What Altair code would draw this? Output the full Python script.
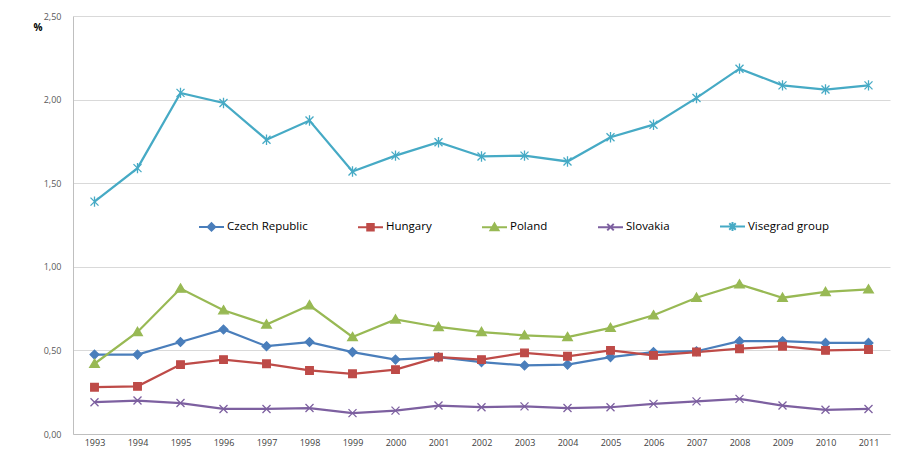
import altair as alt
import pandas as pd

years = [str(y) for y in range(1993, 2012)]
series = ["Czech Republic", "Hungary", "Poland", "Slovakia", "Visegrad group"]
czech = [0.475, 0.475, 0.55, 0.625, 0.525, 0.55, 0.49, 0.445, 0.46, 0.43, 0.41, 0.415, 0.46, 0.49, 0.495, 0.555, 0.555, 0.545, 0.545]
hungary = [0.28, 0.285, 0.415, 0.445, 0.42, 0.38, 0.36, 0.385, 0.46, 0.445, 0.485, 0.465, 0.50, 0.47, 0.49, 0.51, 0.525, 0.50, 0.505]
poland = [0.42, 0.61, 0.87, 0.74, 0.655, 0.77, 0.58, 0.685, 0.64, 0.61, 0.59, 0.58, 0.635, 0.71, 0.815, 0.895, 0.815, 0.85, 0.865]
slovakia = [0.19, 0.20, 0.185, 0.15, 0.15, 0.155, 0.125, 0.14, 0.17, 0.16, 0.165, 0.155, 0.16, 0.18, 0.195, 0.21, 0.17, 0.145, 0.15]
visegrad = [1.39, 1.59, 2.04, 1.98, 1.76, 1.875, 1.57, 1.665, 1.745, 1.66, 1.665, 1.63, 1.775, 1.85, 2.01, 2.185, 2.085, 2.06, 2.085]
y_ticks = [0, 0.5, 1.0, 1.5, 2.0, 2.5]

colors = ["#4A7EBB", "#BE4B48", "#98B954", "#7D60A0", "#46AAC5"]
marker_paths = [
    "M0,-1.1L1.1,0L0,1.1L-1.1,0Z",
    "M-0.95,-0.95H0.95V0.95H-0.95Z",
    "M0,-1.15L1.2,0.9L-1.2,0.9Z",
    "M-1,-1L1,1M-1,1L1,-1",
    "M-1,-1L1,1M-1,1L1,-1M0,-1.3V1.3",
]
legend_paths = [
    "M-1,0H1M0,-0.3L0.3,0L0,0.3L-0.3,0Z",
    "M-1,0H1M-0.26,-0.26H0.26V0.26H-0.26Z",
    "M-1,0H1M0,-0.3L0.32,0.25L-0.32,0.25Z",
    "M-1,0H1M-0.26,-0.26L0.26,0.26M-0.26,0.26L0.26,-0.26",
    "M-1,0H1M-0.26,-0.26L0.26,0.26M-0.26,0.26L0.26,-0.26M0,-0.36V0.36",
]

rows = []
for name, vals in zip(series, [czech, hungary, poland, slovakia, visegrad]):
    for yr, v in zip(years, vals):
        rows.append({"year": yr, "series": name, "value": v})
df = pd.DataFrame(rows)

FONT = "Open Sans"

x_enc = alt.X("year:O", scale=alt.Scale(type="point", padding=0.5, domain=years),
              axis=alt.Axis(labelAngle=0, ticks=False, domainColor="#BFBFBF", labelFontSize=9,
                            labelColor="#404040", title=None, labelPadding=4, labelFont=FONT, grid=False))
y_enc = alt.Y("value:Q", scale=alt.Scale(domain=[0, 2.5], nice=False),
              axis=alt.Axis(values=y_ticks, labelExpr="replace(format(datum.value, '.2f'), '.', ',')",
                            title="%", titleAngle=0, titleX=-40, titleY=11, titleAlign="left",
                            titleBaseline="middle", titleFontWeight="bold", titleFontSize=10,
                            titleFont=FONT, titleColor="#000000",
                            ticks=False, domainColor="#BFBFBF", gridColor="#D9D9D9",
                            labelFontSize=9, labelColor="#595959", labelPadding=12, labelFont=FONT))

col_scale = alt.Scale(domain=series, range=colors)

base = alt.Chart(df).encode(x=x_enc, y=y_enc)

lines = base.mark_line(strokeWidth=2.25).encode(
    color=alt.Color("series:N", scale=col_scale, legend=None)
)

points = base.mark_point(filled=True, size=64, strokeWidth=1.3, opacity=1).encode(
    color=alt.Color("series:N", scale=col_scale, legend=None),
    stroke=alt.Stroke("series:N", scale=col_scale, legend=None),
    shape=alt.Shape("series:N", scale=alt.Scale(domain=series, range=marker_paths), legend=None),
)

leg = alt.Legend(title=None, orient="none", direction="horizontal", columns=5, legendX=125, legendY=197,
                 symbolSize=625, symbolStrokeWidth=2, symbolOffset=0, labelOffset=2, columnPadding=46,
                 labelFont=FONT, labelFontSize=11.5, labelColor="#000000", padding=0, symbolOpacity=1)

legend_layer = base.mark_point(filled=True, size=625, strokeWidth=2).encode(
    color=alt.Color("series:N", scale=col_scale, legend=leg),
    stroke=alt.Stroke("series:N", scale=col_scale, legend=leg),
    shape=alt.Shape("series:N", scale=alt.Scale(domain=series, range=legend_paths), legend=leg),
).transform_filter("false")

chart = alt.layer(lines, points, legend_layer).resolve_scale(
    color="independent", stroke="independent", shape="independent"
).properties(
    width=817, height=418,
    autosize=alt.AutoSizeParams(type="none"),
    padding={"left": 65, "top": 8, "right": 9, "bottom": 13},
    background="white",
).configure_view(stroke=None)

chart.save("out.html", embed_options={"renderer": "svg", "actions": False})
